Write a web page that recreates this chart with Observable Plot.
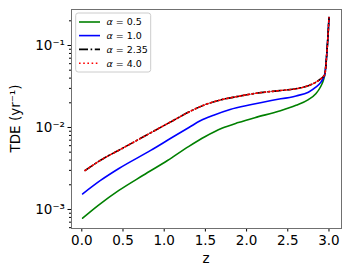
<!DOCTYPE html>
<html><head><meta charset="utf-8">
<script src="https://cdn.jsdelivr.net/npm/d3@7"></script>
<script src="https://cdn.jsdelivr.net/npm/@observablehq/plot@0.6"></script>
<style>html,body{margin:0;padding:0;background:#fff;}</style>
</head><body><div id="chart"></div>
<script>
// α = 0.5 (green)
const zA05 = [0.01,0.2,0.45,0.75,1.04,1.3,1.5,1.7,1.9,2.1,2.4,2.6,2.75,2.84,2.9,2.93,2.95,2.975,2.99,3.0];
const tdeA05 = [7.83e-4,1.122e-3,1.706e-3,2.63e-3,3.96e-3,5.89e-3,7.76e-3,9.77e-3,0.01148,0.01318,0.01585,0.01862,0.02188,0.02576,0.03162,0.03715,0.04467,0.0832,0.1413,0.2188];
// α = 1.0 (blue)
const zA10 = [0.01,0.227,0.45,0.836,1.1,1.3,1.444,1.6,1.8,2.06,2.3,2.6,2.75,2.84,2.9,2.93,2.95,2.975,2.99,3.0];
const tdeA10 = [1.549e-3,2.26e-3,3.16e-3,5.25e-3,7.59e-3,0.01,0.01216,0.01413,0.0166,0.01905,0.02138,0.02427,0.02692,0.03097,0.03548,0.03981,0.04467,0.0832,0.1413,0.2188];
// α = 2.35 (black dash-dot)
const zA235 = [0.04,0.227,0.5,0.836,1.1,1.322,1.5,1.7,1.9,2.1,2.4,2.6,2.75,2.84,2.9,2.93,2.95,2.975,2.99,3.0];
const tdeA235 = [2.99e-3,3.98e-3,5.62e-3,8.61e-3,0.01202,0.01585,0.01905,0.02188,0.02399,0.026,0.02818,0.02965,0.03236,0.03565,0.03926,0.04169,0.04467,0.0832,0.1413,0.2188];
// α = 4.0 (red dotted)
const zA40 = [0.04,0.227,0.5,0.836,1.1,1.322,1.5,1.7,1.9,2.1,2.4,2.6,2.75,2.84,2.9,2.93,2.95,2.975,2.99,3.0];
const tdeA40 = [2.99e-3,3.98e-3,5.62e-3,8.61e-3,0.01202,0.01585,0.01905,0.02188,0.02399,0.026,0.02818,0.02965,0.03236,0.03565,0.03926,0.04169,0.04467,0.0832,0.1413,0.2188];

const seriesLabels = ["0.5","1.0","2.35","4.0"];
const xTicks = [0,0.5,1,1.5,2,2.5,3];
const xTickLabels = ["0.0","0.5","1.0","1.5","2.0","2.5","3.0"];
const yTicks = [1e-3,1e-2,1e-1];
const yTickLabels = ["10⁻³","10⁻²","10⁻¹"];
const yMinorTicks = [6e-4,7e-4,8e-4,9e-4,2e-3,3e-3,4e-3,5e-3,6e-3,7e-3,8e-3,9e-3,2e-2,3e-2,4e-2,5e-2,6e-2,7e-2,8e-2,9e-2,2e-1];
const xLabel = "z";
const yLabel = "TDE (yr⁻¹)";

const zs = [zA05, zA10, zA235, zA40];
const vs = [tdeA05, tdeA10, tdeA235, tdeA40];
const styles = [
  {stroke: "#008000", dash: null},
  {stroke: "#0000ff", dash: null},
  {stroke: "#000000", dash: "9,2.6,1.6,2.6"},
  {stroke: "#ff0000", dash: "1.6,2.6"}
];
const rows = [];
seriesLabels.forEach((s, k) => zs[k].forEach((z, i) => rows.push({series: s, z, tde: vs[k][i]})));

const xFmt = new Map(xTicks.map((t, i) => [t, xTickLabels[i]]));
const yFmt = new Map(yTicks.map((t, i) => [t, yTickLabels[i]]));

const W = 350, H = 274, mL = 71, mR = 9, mT = 9, mB = 46;
const plot = Plot.plot({
  width: W, height: H,
  marginLeft: mL, marginRight: mR, marginTop: mT, marginBottom: mB,
  style: {fontFamily: "DejaVu Sans", fontSize: "13.5px", color: "#000", background: "#fff", overflow: "visible"},
  x: {domain: [-0.125, 3.152]},
  y: {type: "log", domain: [5.86e-4, 0.2748]},
  marks: [
    Plot.axisX({ticks: xTicks, tickFormat: d => xFmt.get(d), tickSize: 3.5, tickPadding: 3, label: null}),
    Plot.axisY({ticks: yTicks, tickFormat: d => yFmt.get(d), tickSize: 3.5, tickPadding: 3, label: null}),
    Plot.axisY({ticks: yMinorTicks, tickFormat: () => "", tickSize: 2, label: null}),
    ...seriesLabels.map((s, k) => Plot.line(rows.filter(r => r.series === s), {
      x: "z", y: "tde", stroke: styles[k].stroke, strokeWidth: 1.6,
      strokeDasharray: styles[k].dash, curve: "monotone-x"
    })),
    Plot.frame({stroke: "#707070", strokeWidth: 1})
  ]
});
document.getElementById("chart").appendChild(plot);

const svg = d3.select(plot);
// axis labels
svg.append("text").attr("x", (mL + W - mR) / 2).attr("y", 263)
  .attr("text-anchor", "middle").attr("font-size", 13.5).attr("fill", "#000").text(xLabel);
svg.append("text").attr("transform", `translate(14.5,${(mT + H - mB) / 2}) rotate(-90)`)
  .attr("text-anchor", "middle").attr("dominant-baseline", "central")
  .attr("font-size", 13.5).attr("fill", "#000").text(yLabel);

// legend
const lg = svg.append("g");
lg.append("rect").attr("x", 75.7).attr("y", 13).attr("width", 75).attr("height", 59)
  .attr("rx", 2.5).attr("fill", "#fff").attr("fill-opacity", 0.8).attr("stroke", "#cccccc");
const rowY = [22, 35.6, 49.4, 63.3];
seriesLabels.forEach((s, k) => {
  lg.append("line").attr("x1", 79).attr("x2", 100).attr("y1", rowY[k]).attr("y2", rowY[k])
    .attr("stroke", styles[k].stroke).attr("stroke-width", 1.6)
    .attr("stroke-dasharray", styles[k].dash);
  const t = lg.append("text").attr("x", 106.5).attr("y", rowY[k] + 3.4)
    .attr("text-anchor", "start").attr("font-size", 9.5).attr("fill", "#000");
  t.append("tspan").attr("font-style", "italic").text("α");
  t.append("tspan").text(" = " + s);
});
</script>
</body></html>
